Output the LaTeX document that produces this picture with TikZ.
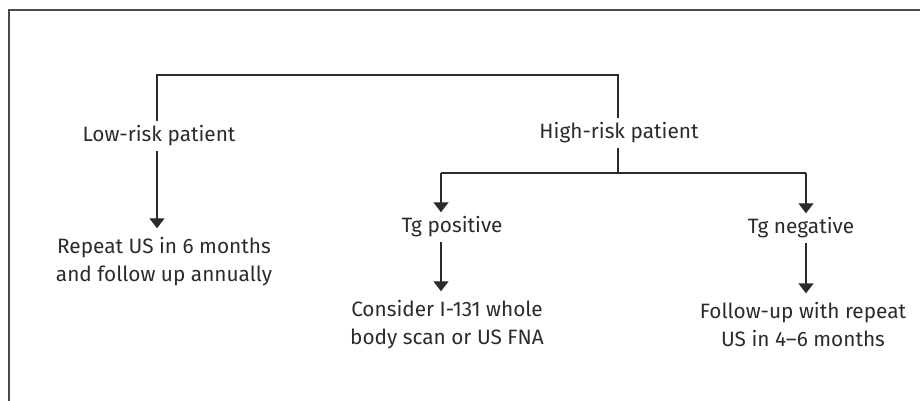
\documentclass[tikz,border=0pt]{standalone}
\usepackage{fontspec}
\setmainfont{Fira Sans}
\usetikzlibrary{arrows.meta,positioning}
\definecolor{ink}{HTML}{2B2B2B}
\definecolor{framegray}{HTML}{4A4A4A}

\begin{document}
\begin{tikzpicture}[x=0.5pt, y=-0.5pt, >={Triangle[width=7.5pt,length=5pt]},
  every node/.style={font=\fontsize{10.4}{14}\selectfont, text=ink, inner sep=2pt},
  outcome/.style={align=center, inner ysep=4.5pt},
  link/.style={draw=ink, line width=0.7pt},
  arr/.style={link, ->}]
  \useasboundingbox (0,0) rectangle (920,401);

  % Frame
  \draw[framegray, line width=0.8pt] (9,401) -- (9,10) -- (920,10);

  % Risk groups
  \node (low) at (159,136) {Low-risk patient};
  \node (high) at (619,133) {High-risk patient};
  \node[outcome] (repeat) at (164,262) {Repeat US in 6 months\\and follow up annually};

  % Tg result
  \node (tgpos) at (452,227) {Tg positive};
  \node (tgneg) at (801,228) {Tg negative};
  \node[outcome] (consider) at (447,325) {Consider I-131 whole\\body scan or US FNA};
  \node[outcome] (follow) at (803,325) {Follow-up with repeat\\US in 4--6 months};

  % Branch points
  \coordinate (lowtop) at (157,75);
  \coordinate (hightop) at (618,75);
  \coordinate (split) at (618,173);
  \coordinate (posturn) at (441,173);
  \coordinate (negturn) at (806,173);

  % Connectors
  \draw[link] (low.north -| lowtop) -- (lowtop) -- (hightop) -- (high.north -| hightop);
  \draw[arr] (low.south -| lowtop) -- (repeat.north -| lowtop);
  \draw[link] (high.south -| hightop) -- (split);
  \draw[link] (posturn) -- (negturn);
  \draw[arr] (posturn) -- (tgpos.north -| posturn);
  \draw[arr] (negturn) -- (tgneg.north -| negturn);
  \draw[arr] (tgpos.south -| posturn) -- (consider.north -| posturn);
  \draw[arr] (tgneg.south -| negturn) -- (follow.north -| negturn);
\end{tikzpicture}
\end{document}
